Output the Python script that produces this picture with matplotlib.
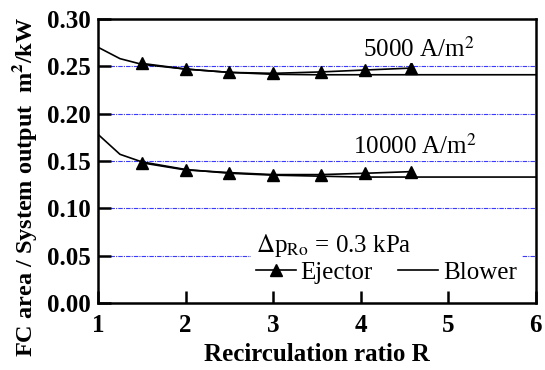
import matplotlib
matplotlib.use('Agg')
import matplotlib.pyplot as plt
from matplotlib.lines import Line2D

# 数据
R_ej=[1.5,2.0,2.5,3.0,3.55,4.05,4.57]
ej_5000=[0.253,0.247,0.2435,0.2425,0.244,0.246,0.248]
ej_10000=[0.148,0.1405,0.1377,0.1356,0.1356,0.137,0.1387]
R_bl=[1.0,1.25,1.5,2.0,2.5,3.0,3.5,4.0,5.0,6.0]
bl_5000=[0.270,0.258,0.252,0.247,0.2435,0.2415,0.241,0.241,0.241,0.241]
bl_10000=[0.178,0.157,0.149,0.141,0.137,0.135,0.134,0.133,0.133,0.133]
xticks=[1,2,3,4,5,6]
yticks=[0.00,0.05,0.10,0.15,0.20,0.25,0.30]

plt.rcParams['font.family']=['Liberation Serif','DejaVu Serif']
plt.rcParams['mathtext.fontset']='stix'

fig=plt.figure(figsize=(5.45,3.70),dpi=100)
ax=fig.add_axes([0.180,0.181,0.803,0.768])

# 网格线 (蓝色点划线)
for y in yticks[1:-1]:
	ax.axhline(y,xmin=0.027,xmax=1,color='#3a3aff',lw=0.8,ls=(0,(4,1,1,1)),zorder=1)

ax.plot(R_bl,bl_5000,'k-',lw=1.2,zorder=3)
ax.plot(R_bl,bl_10000,'k-',lw=1.2,zorder=3)
ax.plot(R_ej,ej_5000,'k-^',lw=1.2,ms=8,zorder=4)
ax.plot(R_ej,ej_10000,'k-^',lw=1.2,ms=8,zorder=4)

ax.set_xlim(1,6)
ax.set_ylim(0,0.30)
ax.set_xticks(xticks)
ax.set_yticks(yticks)
ax.set_xticklabels(['%d'%v for v in xticks],fontweight='bold',fontsize=18)
ax.set_yticklabels(['%.2f'%v for v in yticks],fontweight='bold',fontsize=18)
ax.tick_params(direction='in',length=9,width=1.8)
ax.tick_params(axis='x',pad=8)
ax.tick_params(axis='y',pad=5)
for s in ax.spines.values():
	s.set_linewidth(1.8)

ax.set_xlabel('Recirculation ratio R',fontweight='bold',fontsize=18,labelpad=4)
ax.set_ylabel(r'FC area / System output  m$^{\mathbf{2}}$/kW',fontweight='bold',fontsize=17.5)
ax.yaxis.set_label_coords(-0.135,0.41)

box=dict(facecolor='white',edgecolor='none',pad=1)
ax.text(4.03,0.260,r'5000 A/m$^2$',fontsize=18,va='baseline',bbox=box,zorder=5)
ax.text(3.91,0.157,r'10000 A/m$^2$',fontsize=18,va='baseline',bbox=box,zorder=5)

# 图例
handles=[Line2D([],[],color='k',lw=1.2,marker='^',ms=8),Line2D([],[],color='k',lw=1.2)]
leg=ax.legend(handles,['Ejector','Blower'],ncol=2,loc='lower right',bbox_to_anchor=(0.968,0.05),
	title=r'$\Delta$p$_{\rm Ro}$ = 0.3 kPa',fontsize=18,title_fontsize=18,frameon=True,
	framealpha=1,edgecolor='none',fancybox=False,handlelength=1.6,handletextpad=0.2,
	columnspacing=1.0,borderpad=0.2,labelspacing=0.1,borderaxespad=0)
leg._legend_box.align='left'
leg.set_zorder(6)

fig.savefig('out.png',dpi=100)
